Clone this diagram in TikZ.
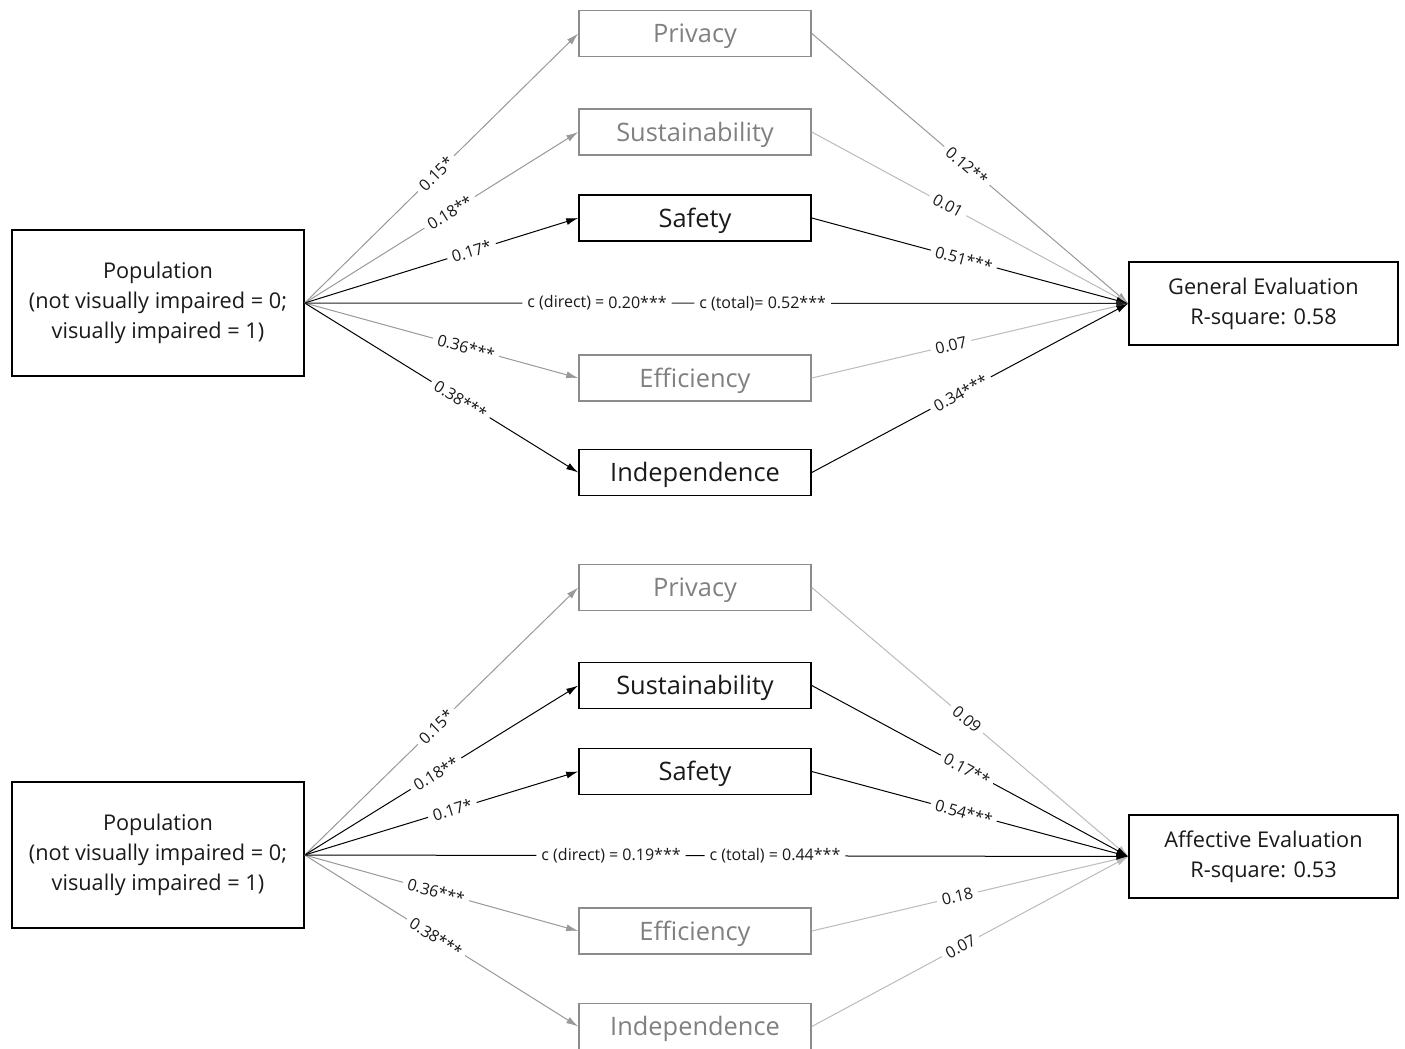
\documentclass[tikz,border=0pt]{standalone}
\usepackage{fontspec}
\setmainfont{Open Sans}
\usetikzlibrary{arrows.meta}
\definecolor{boxgray}{HTML}{8C8C8C}
\definecolor{txtgray}{HTML}{808080}
\definecolor{lnmid}{HTML}{999999}
\definecolor{lnlight}{HTML}{BBBBBB}
\definecolor{lndark}{HTML}{222222}
\definecolor{txtdark}{HTML}{1A1A1A}
\begin{document}
\begin{tikzpicture}[x=1pt,y=-1pt,
  medblack/.style={draw=black,line width=1.6pt,minimum width=232pt,minimum height=46pt,inner sep=0pt,text depth=1pt,font=\fontsize{25.4}{30}\selectfont,text=txtdark},
  medgray/.style={draw=boxgray,line width=1.6pt,minimum width=232pt,minimum height=46pt,inner sep=0pt,text depth=1pt,font=\fontsize{25.4}{30}\selectfont,text=txtgray},
  popbox/.style={draw=black,line width=1.4pt,minimum width=292pt,minimum height=146pt,inner sep=0pt,align=center,font=\fontsize{21.7}{30}\selectfont,text=txtdark},
  outbox/.style={draw=black,line width=1.4pt,minimum width=269pt,minimum height=83pt,inner sep=0pt,align=center,font=\fontsize{21.7}{30}\selectfont,text=txtdark},
  arr/.style={line width=1pt,-{Latex[length=12pt,width=7pt]}},
  blk/.style={arr,draw=black},
  drk/.style={arr,draw=lndark},
  mid/.style={arr,draw=lnmid},
  lgt/.style={arr,draw=lnlight},
  lab/.style={font=\fontsize{16}{18}\selectfont,fill=white,inner xsep=5pt,inner ysep=1pt,sloped,text=txtdark}
]
\useasboundingbox (0,0) rectangle (1405,1049);
\fill[white] (0,0) rectangle (1405,1049);

% ---------- top diagram ----------
\node[popbox] (popA) at (158,303) {Population\\(not visually impaired = 0;\\visually impaired = 1)};
\node[outbox] (geA) at (1263.5,303.5) {General Evaluation\\R-square: 0.58};
\node[medgray] (privA) at (695,33.5) {Privacy};
\node[medgray] (sustA) at (695,132) {Sustainability};
\node[medblack] (safeA) at (695,218) {Safety};
\node[medgray] (effA) at (695,378) {Efficiency};
\node[medblack] (indA) at (695,472.5) {Independence};

\draw[mid] (popA.east) -- node[lab,pos=0.48] {0.15*} (privA.west);
\draw[mid] (popA.east) -- node[lab,pos=0.53] {0.18**} (sustA.west);
\draw[blk] (popA.east) -- node[lab,pos=0.61] {0.17*} (safeA.west);
\draw[mid] (popA.east) -- node[lab,pos=0.59] {0.36***} (effA.west);
\draw[blk] (popA.east) -- node[lab,pos=0.57] {0.38***} (indA.west);

\draw[mid] (privA.east) -- node[lab,pos=0.49] {0.12**} (geA.west);
\draw[lgt] (sustA.east) -- node[lab,pos=0.43] {0.01} (geA.west);
\draw[blk] (safeA.east) -- node[lab,pos=0.48] {0.51***} (geA.west);
\draw[lgt] (effA.east) -- node[lab,pos=0.44] {0.07} (geA.west);
\draw[blk] (indA.east) -- node[lab,pos=0.47] {0.34***} (geA.west);

\draw[drk] (popA.east) -- node[lab,pos=0.355] {c (direct) = 0.20***} node[lab,pos=0.556] {c (total)= 0.52***} (geA.west);

% ---------- bottom diagram ----------
\node[popbox] (popB) at (158,855) {Population\\(not visually impaired = 0;\\visually impaired = 1)};
\node[outbox] (aeB) at (1263.5,856.5) {Affective Evaluation\\R-square: 0.53};
\node[medgray] (privB) at (695,587.5) {Privacy};
\node[medblack] (sustB) at (695,685.5) {Sustainability};
\node[medblack] (safeB) at (695,771.5) {Safety};
\node[medgray] (effB) at (695,931) {Efficiency};
\node[medgray] (indB) at (695,1026.5) {Independence};

\draw[mid] (popB.east) -- node[lab,pos=0.48] {0.15*} (privB.west);
\draw[blk] (popB.east) -- node[lab,pos=0.48] {0.18**} (sustB.west);
\draw[blk] (popB.east) -- node[lab,pos=0.54] {0.17*} (safeB.west);
\draw[mid] (popB.east) -- node[lab,pos=0.48] {0.36***} (effB.west);
\draw[mid] (popB.east) -- node[lab,pos=0.48] {0.38***} (indB.west);

\draw[lgt] (privB.east) -- node[lab,pos=0.49] {0.09} (aeB.west);
\draw[blk] (sustB.east) -- node[lab,pos=0.49] {0.17**} (aeB.west);
\draw[blk] (safeB.east) -- node[lab,pos=0.48] {0.54***} (aeB.west);
\draw[lgt] (effB.east) -- node[lab,pos=0.46] {0.18} (aeB.west);
\draw[lgt] (indB.east) -- node[lab,pos=0.47] {0.07} (aeB.west);

\draw[blk] (popB.east) -- node[lab,pos=0.372] {c (direct) = 0.19***} node[lab,pos=0.571] {c (total) = 0.44***} (aeB.west);
\end{tikzpicture}
\end{document}
